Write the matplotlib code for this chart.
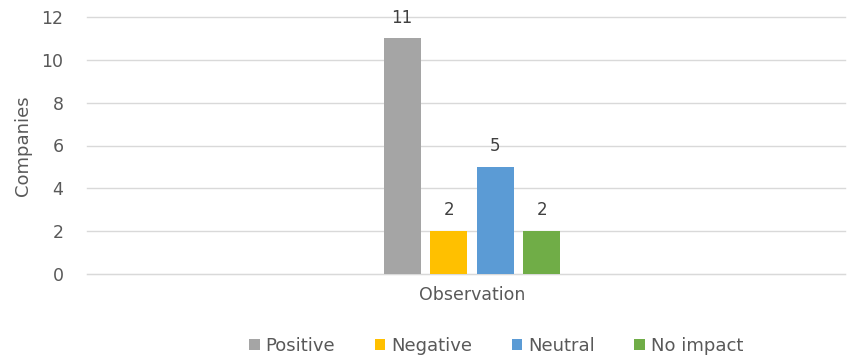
import matplotlib
matplotlib.use("Agg")
import matplotlib.pyplot as plt
from matplotlib.patches import Patch

category = "Observation"
series = ["Positive", "Negative", "Neutral", "No impact"]
values = [11, 2, 5, 2]
colors = ["#a5a5a5", "#ffc000", "#5b9bd5", "#70ad47"]
y_ticks = [0, 2, 4, 6, 8, 10, 12]

plt.rcParams["font.family"] = ["DejaVu Sans"]

fig = plt.figure(figsize=(8.47, 3.61), dpi=100)
ax = fig.add_axes([87 / 847, 87 / 361, 758 / 847, 257 / 361])

bar_w = 0.049
step = 0.0614
offsets = [(i - (len(values) - 1) / 2) * step for i in range(len(values))]
for off, v, c in zip(offsets, values, colors):
    ax.bar(off, v, width=bar_w, color=c, zorder=3)
    ax.text(off, v + 0.97, str(v), ha="center", va="center",
            fontsize=12, color="#404040", clip_on=False)

ax.set_xlim(-(472 - 87) / 758, (845 - 472) / 758)
ax.set_ylim(0, 12)
ax.set_yticks(y_ticks)
ax.set_xticks([0])
ax.set_xticklabels([category])
ax.tick_params(axis="both", length=0, labelsize=12.5, colors="#595959")
ax.tick_params(axis="y", pad=17)
ax.tick_params(axis="x", pad=9)
ax.grid(axis="y", color="#d9d9d9", linewidth=1, zorder=0)
for line in ax.get_ygridlines():
    line.set_clip_on(False)
for s in ax.spines.values():
    s.set_visible(False)
ax.spines["bottom"].set_visible(True)
ax.spines["bottom"].set_color("#d9d9d9")
ax.set_ylabel("Companies", fontsize=13, color="#595959", labelpad=7)

handles = [Patch(facecolor=c, label=s) for s, c in zip(series, colors)]
fig.legend(handles=handles, loc="center", bbox_to_anchor=(496 / 847, 1 - 346 / 361),
           ncol=4, frameon=False, fontsize=13, handlelength=0.6, handleheight=0.6,
           handletextpad=0.3, columnspacing=2.2, labelcolor="#595959")

fig.savefig("out.png", dpi=100)
